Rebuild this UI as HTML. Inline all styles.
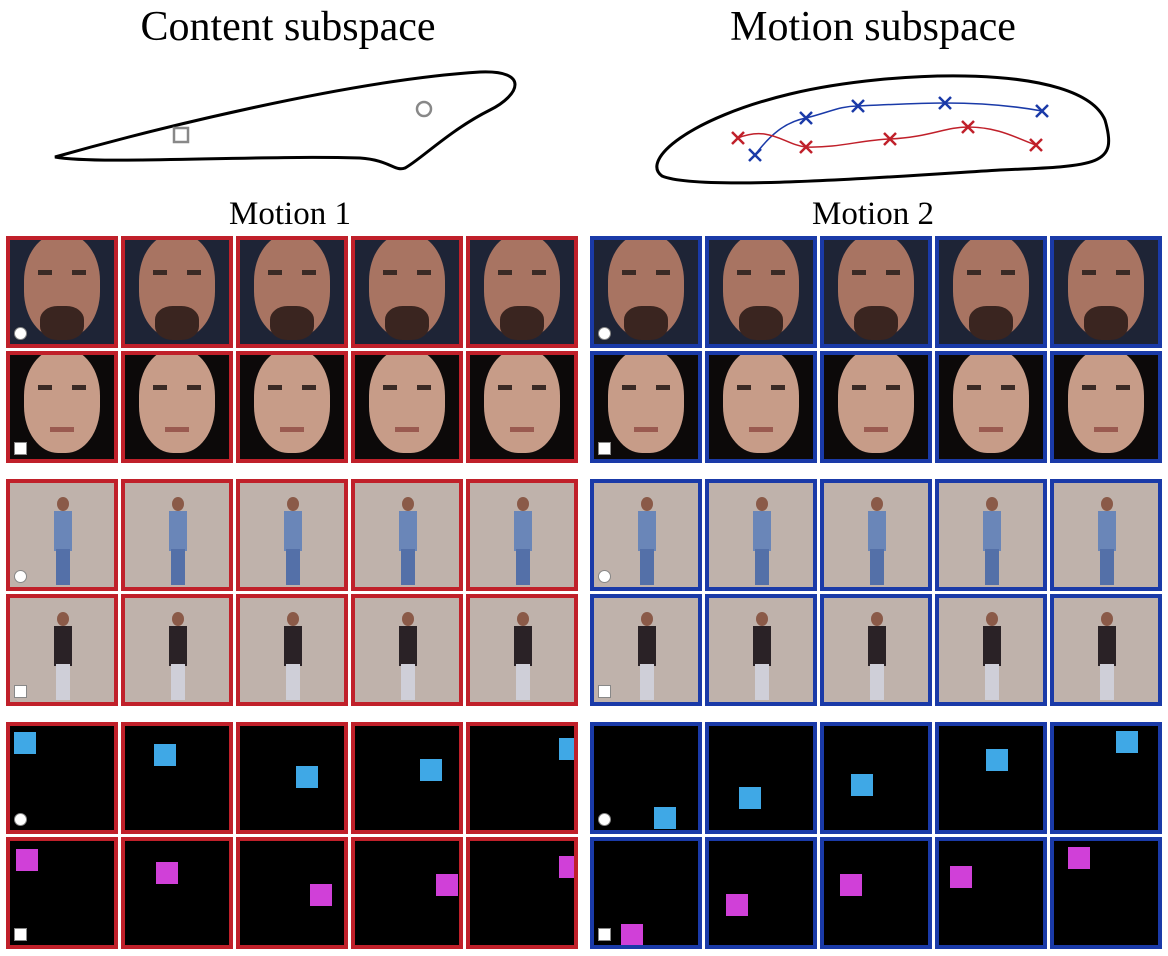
<!DOCTYPE html>
<html><head><meta charset="utf-8"><style>
body{margin:0;background:#fff;width:1168px;height:956px;position:relative;overflow:hidden;font-family:"Liberation Serif",serif}
.t{position:absolute;font-size:42px;color:#000;transform:translateX(-50%);white-space:nowrap}
.m{position:absolute;font-size:33px;transform:translateX(-50%);white-space:nowrap}
.cell{position:absolute;width:104px;height:104px;border:4px solid;overflow:hidden}
.ic{position:absolute;left:4px;bottom:4px;width:11px;height:11px;background:#fff;border:1px solid #888}
</style></head><body>
<div class="t" style="left:288px;top:3px">Content subspace</div>
<div class="t" style="left:873px;top:3px">Motion subspace</div>
<svg width="1168" height="200" style="position:absolute;left:0;top:0">
<path d="M55,157 C150,130 350,80 480,72 C530,70 520,95 490,110 C450,130 420,160 405,168 C395,172 390,160 360,158 C250,155 100,165 55,157 Z" fill="none" stroke="#000" stroke-width="3"/>
<rect x="174" y="128" width="14" height="14" fill="none" stroke="#888" stroke-width="2.5"/>
<circle cx="424" cy="109" r="7" fill="none" stroke="#888" stroke-width="2.5"/>
<path d="M662,176 C640,160 690,118 790,94 C890,70 1080,62 1105,120 C1118,165 1100,166 1000,170 C900,176 700,192 662,176 Z" fill="none" stroke="#000" stroke-width="3"/>
<path d="M755,155 C770,135 785,122 806,118 C830,112 840,106 858,106 C900,104 920,103 945,103 C990,103 1020,107 1042,111" fill="none" stroke="#1a3aa8" stroke-width="1.5"/>
<path d="M738,138 C770,125 785,145 806,147 C840,148 860,140 890,139 C930,137 945,127 968,127 C1000,127 1020,140 1036,145" fill="none" stroke="#c0202a" stroke-width="1.5"/>
<g id="xs"></g>
</svg>
<div class="m" style="left:290px;top:196px">Motion 1</div>
<div class="m" style="left:873px;top:196px">Motion 2</div>
<div id="grid"></div>
<script>
const blueX=[[755,155],[806,118],[858,106],[945,103],[1042,111]];
const redX=[[738,138],[806,147],[890,139],[968,127],[1036,145]];
const g=document.getElementById('xs');
function cross(p,c){const s=6;const e=document.createElementNS('http://www.w3.org/2000/svg','path');
e.setAttribute('d',`M${p[0]-s},${p[1]-s}L${p[0]+s},${p[1]+s}M${p[0]+s},${p[1]-s}L${p[0]-s},${p[1]+s}`);
e.setAttribute('stroke',c);e.setAttribute('stroke-width','2.5');


g.appendChild(e);}
blueX.forEach(p=>cross(p,'#1a3aa8'));redX.forEach(p=>cross(p,'#c0202a'));
const colX=[6,121,236,351,466,590,705,820,935,1050];
const rowY=[236,351,479,594,722,837];
const sqL=[[[4,6],[29,18],[56,40],[65,33],[89,12]],[[6,8],[31,21],[70,43],[81,33],[89,15]]];
const sqR=[[[60,81],[30,61],[27,48],[47,23],[62,5]],[[27,83],[17,53],[16,33],[11,25],[14,6]]];
const grid=document.getElementById('grid');
for(let r=0;r<6;r++)for(let c=0;c<10;c++){
 const d=document.createElement('div');d.className='cell';
 
 
 const right=c>=5,k=c%5;
 d.style.left=colX[c]+'px';d.style.top=rowY[r]+'px';
 d.style.borderColor=right?'#1a3aa8':'#c0202a';
 let h='';
 if(r<2){
  const bg=r==0?'#1e2436':'#0c0909',sk=r==0?'#a87462':'#c79c88';
  d.style.background=bg;
  h+=`<div style="position:absolute;left:14px;top:-6px;width:76px;height:104px;border-radius:45%;background:${sk}"></div>`;
  if(r==0)h+=`<div style="position:absolute;left:30px;top:66px;width:44px;height:34px;border-radius:40%;background:#3a2520"></div>`;
  h+=`<div style="position:absolute;left:28px;top:30px;width:14px;height:5px;background:#3a2a25"></div><div style="position:absolute;left:62px;top:30px;width:14px;height:5px;background:#3a2a25"></div>`;
  if(r==1)h+=`<div style="position:absolute;left:40px;top:72px;width:24px;height:5px;background:#9a5a50"></div>`;
 }else if(r<4){
  d.style.background='#bfb2ab';
  const col=r==2?'#6a86b8':'#2a2226';
  h+=`<div style="position:absolute;left:44px;top:28px;width:18px;height:40px;background:${col}"></div><div style="position:absolute;left:46px;top:66px;width:14px;height:36px;background:${r==2?'#5470a8':'#cfcfd8'}"></div><div style="position:absolute;left:47px;top:14px;width:12px;height:14px;border-radius:50%;background:#8a5a48"></div>`;
 }else{
  d.style.background='#000';
  const p=(right?sqR:sqL)[r-4][k];const cc=r==4?'#3fa8e6':'#d040d8';
  h+=`<div style="position:absolute;left:${p[0]}px;top:${p[1]}px;width:22px;height:22px;background:${cc}"></div>`;
 }
 if(k==0)h+=`<div class="ic" style="${r%2==0?'border-radius:50%':''}"></div>`;
 d.innerHTML=h;grid.appendChild(d);
}
</script>
</body></html>
